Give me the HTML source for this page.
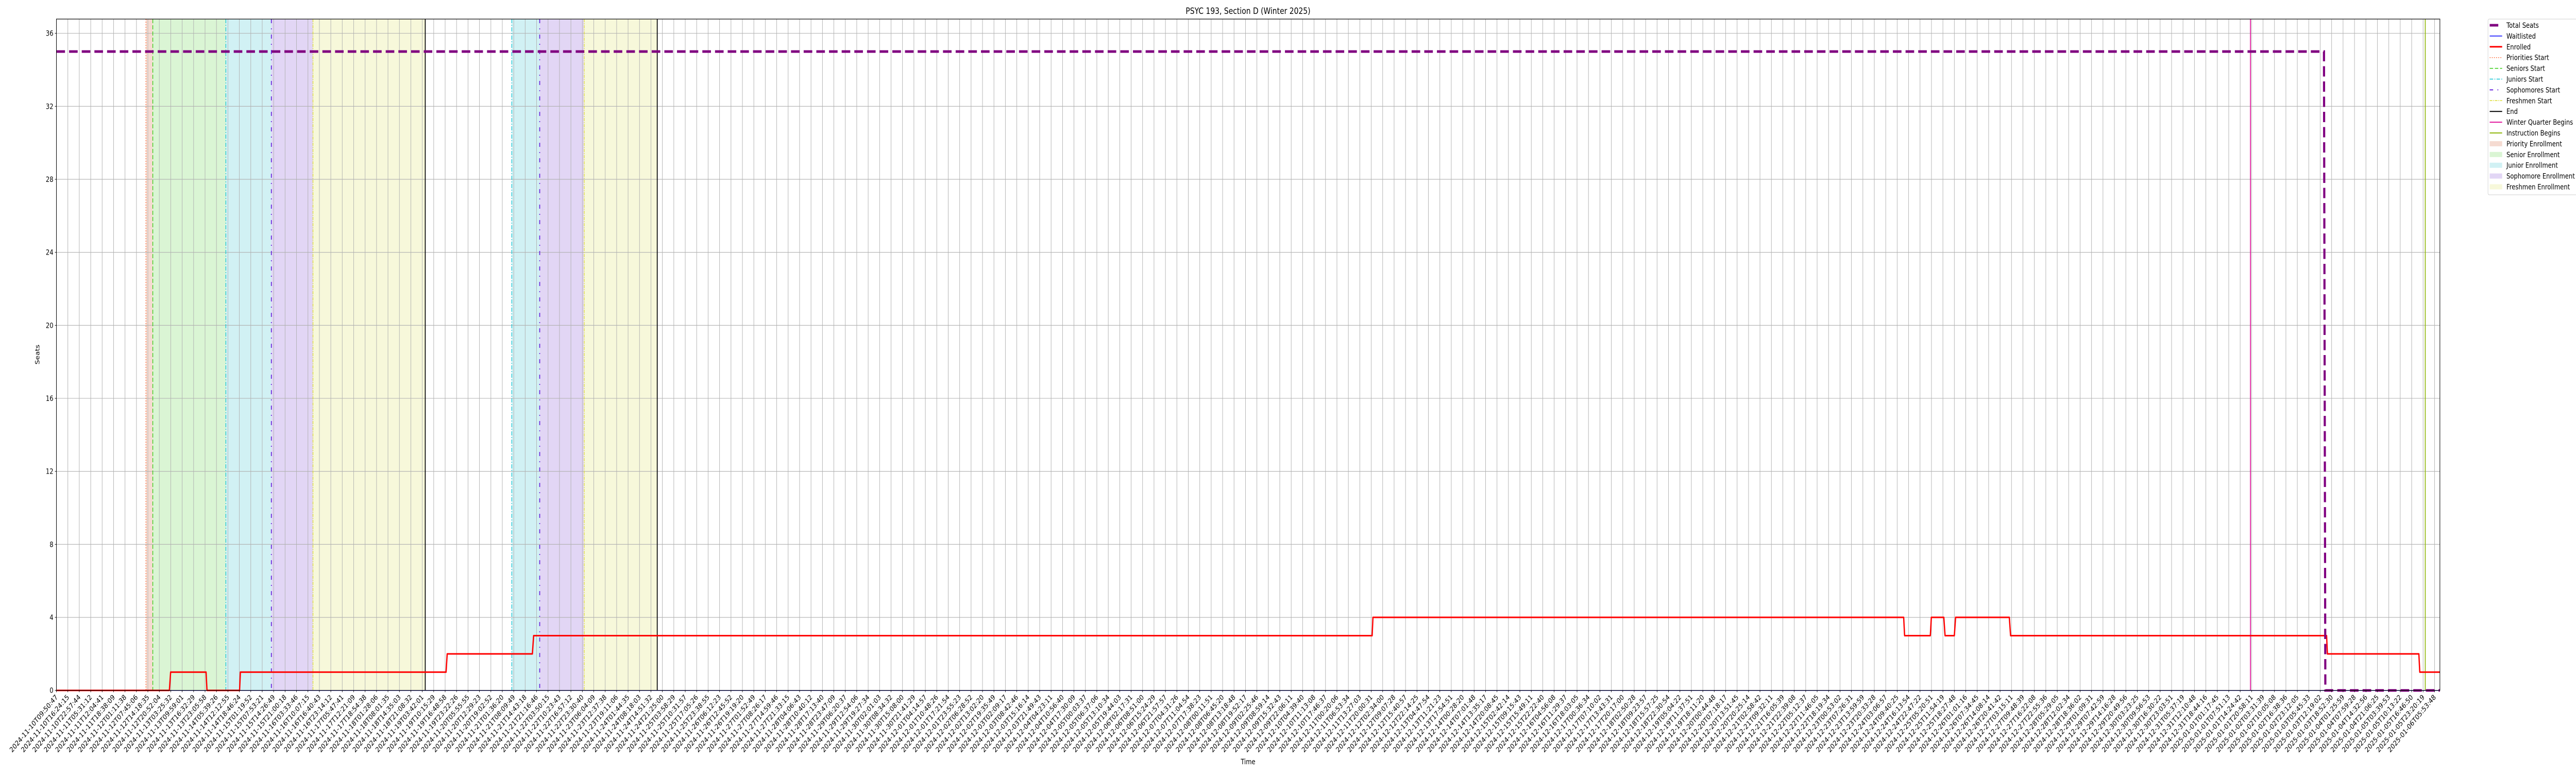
<!DOCTYPE html>
<html><head><meta charset="utf-8"><title>PSYC 193, Section D (Winter 2025)</title>
<style>
html,body{margin:0;padding:0;background:#fff;overflow:hidden;width:100%;height:100%;}
svg{display:block;width:100vw;height:100vh;font-family:"DejaVu Sans","Liberation Sans",sans-serif;}
</style></head>
<body>
<svg id="chart" viewBox="0 0 6000 1500" preserveAspectRatio="none" xmlns="http://www.w3.org/2000/svg">
<rect x="0" y="0" width="6000" height="1500" fill="#fff"/>
<g id="spans"></g>
<g id="grid"></g>
<g id="vlines"></g>
<g id="series"></g>
<rect x="131.4" y="37" width="5551.6" height="1302.7" fill="none" stroke="#000" stroke-width="1.2"/>
<g id="yaxis"></g>
<g id="xaxis"></g>
<text x="2907" y="27" font-size="16.7" text-anchor="middle">PSYC 193, Section D (Winter 2025)</text>
<text x="2907" y="1483" font-size="13.9" text-anchor="middle">Time</text>
<text x="0" y="0" font-size="13.9" text-anchor="middle" transform="translate(92,688) rotate(-90)">Seats</text>
<g id="legend"></g>
</svg>
<script>
// ---- data ----
const tStart = "2024-11-10T09:50:47";
const tEnd = "2025-01-06T05:53:48";
const nTicks = 209;
const yTicks = [0, 4, 8, 12, 16, 20, 24, 28, 32, 36];
// enrolled step series (x in tick-index units)
const enrolledX = [0, 9.88, 9.99, 13.09, 13.17, 16.02, 16.09, 34.08, 34.18, 41.63, 41.74, 115.08, 115.15, 161.57, 161.65, 163.90, 163.99, 165.08, 165.19, 166.00, 166.11, 170.81, 170.92, 198.56, 198.63, 206.63, 206.71, 208.47];
const enrolledY = [0, 0, 1, 1, 0, 0, 1, 1, 2, 2, 3, 3, 4, 4, 3, 3, 4, 4, 3, 3, 4, 4, 3, 3, 2, 2, 1, 1];
const waitlistX = [0, 208.47];
const waitlistY = [0, 0];
const seatsX = [0, 198.33, 198.45, 208.47];
const seatsY = [35, 35, 0, 0];
// enrollment windows
const spanStart = [7.83, 8.43, 14.82, 18.8, 22.44, 39.83, 42.27, 46.16];
const spanEnd = [8.43, 14.82, 18.8, 22.44, 32.26, 42.27, 46.16, 52.55];
const spanKind = ["priority", "senior", "junior", "sophomore", "freshmen", "junior", "sophomore", "freshmen"];
// event lines
const eventX = [7.83, 8.43, 14.82, 18.8, 22.44, 32.26, 39.83, 42.27, 46.16, 52.55, 191.9, 207.19];
const eventKind = ["priorities", "seniors", "juniors", "sophomores", "freshmen", "end", "juniors", "sophomores", "freshmen", "end", "winter", "instruction"];

// ---- axes ----
const X0 = 131.4, X1 = 5683, Y0 = 1339.7, YT = 37;
const xMin = 0, xMax = 208.47, yMin = 0, yMax = 36.78;
function xs(v){ return X0 + (v - xMin) / (xMax - xMin) * (X1 - X0); }
function ys(v){ return Y0 - (v - yMin) / (yMax - yMin) * (Y0 - YT); }
const NS = "http://www.w3.org/2000/svg";
function mk(tag, attrs, parent){ const e = document.createElementNS(NS, tag); for (const k in attrs) e.setAttribute(k, attrs[k]); parent.appendChild(e); return e; }

const spanFill = {priority:"#f0c8b8", senior:"#c6efbd", junior:"#b8eaee", sophomore:"#d2c0f0", freshmen:"#f2f4c6"};
const evStyle = {
  priorities:{c:"#ff6633", d:"2 3", w:1.5},
  seniors:{c:"#33cc11", d:"8 4", w:1.5},
  juniors:{c:"#11c4d4", d:"8 3 2 3", w:1.5},
  sophomores:{c:"#6622dd", d:"8 10 2 10", w:2},
  freshmen:{c:"#dddd33", d:"6 2 2 2", w:1.5},
  end:{c:"#000", d:"", w:2},
  winter:{c:"#e0169c", d:"", w:2},
  instruction:{c:"#8fb70c", d:"", w:2}
};

// tick labels
const t0 = Date.parse(tStart + "Z"), t1 = Date.parse(tEnd + "Z");
const tickLabels = [];
for (let i = 0; i < nTicks; i++) {
  const t = new Date(t0 + (t1 - t0) * i / (nTicks - 1));
  tickLabels.push(t.toISOString().slice(0, 19));
}

const spansG = document.getElementById("spans");
spanStart.forEach((s, i) => {
  const r = mk("rect", {x: xs(s), y: YT, width: xs(spanEnd[i]) - xs(s), height: Y0 - YT, fill: spanFill[spanKind[i]], "fill-opacity": 0.65}, spansG);
  
  
});

const gridG = document.getElementById("grid");
for (let i = 0; i < nTicks; i++) {
  const l = mk("line", {x1: xs(i), x2: xs(i), y1: YT, y2: Y0, stroke: "#b0b0b0", "stroke-width": 1.1}, gridG);
  
  
}
yTicks.forEach(v => {
  const l = mk("line", {x1: X0, x2: X1, y1: ys(v), y2: ys(v), stroke: "#b0b0b0", "stroke-width": 1.1}, gridG);
  
  
});

const vG = document.getElementById("vlines");
eventX.forEach((v, i) => {
  const s = evStyle[eventKind[i]];
  const l = mk("line", {x1: xs(v), x2: xs(v), y1: YT, y2: Y0, stroke: s.c, "stroke-width": s.w}, vG);
  if (s.d) l.setAttribute("stroke-dasharray", s.d);
  
  
});

const sG = document.getElementById("series");
function pts(xa, ya){ return xa.map((x, i) => xs(x).toFixed(2) + "," + ys(ya[i]).toFixed(2)).join(" "); }
const wl = mk("polyline", {points: pts(waitlistX, waitlistY), fill: "none", stroke: "#0000ff", "stroke-width": 1.5}, sG);


const en = mk("polyline", {points: pts(enrolledX, enrolledY), fill: "none", stroke: "#ff0000", "stroke-width": 3, "stroke-linejoin": "round"}, sG);


const ts = mk("polyline", {points: pts(seatsX, seatsY), fill: "none", stroke: "#800080", "stroke-width": 5, "stroke-dasharray": "20 9.5"}, sG);



const yA = document.getElementById("yaxis");
yTicks.forEach(v => {
  const tk = mk("line", {x1: X0 - 3.5, x2: X0, y1: ys(v), y2: ys(v), stroke: "#000", "stroke-width": 1}, yA);
  
  
  const tx = mk("text", {x: X0 - 7, y: ys(v) + 5, "font-size": 13.9, "text-anchor": "end"}, yA);
  tx.textContent = v;
  
  
});

const xA = document.getElementById("xaxis");
tickLabels.forEach((lab, i) => {
  const x = xs(i);
  const tk = mk("line", {x1: x, x2: x, y1: Y0, y2: Y0 + 3.5, stroke: "#000", "stroke-width": 1}, xA);
  
  
  const ax = x + 4, ay = Y0 + 14;
  const tx = mk("text", {x: ax, y: ay, "font-size": 13.9, "text-anchor": "end", transform: "rotate(-45 " + ax + " " + ay + ")"}, xA);
  tx.textContent = lab;
  
  
});

// legend
const legendNames = ["Total Seats", "Waitlisted", "Enrolled", "Priorities Start", "Seniors Start", "Juniors Start", "Sophomores Start", "Freshmen Start", "End", "Winter Quarter Begins", "Instruction Begins", "Priority Enrollment", "Senior Enrollment", "Junior Enrollment", "Sophomore Enrollment", "Freshmen Enrollment"];
const legendKind = ["seats", "wait", "enr", "priorities", "seniors", "juniors", "sophomores", "freshmen", "end", "winter", "instruction", "priority", "senior", "junior", "sophomore", "freshmen"];
const lg = document.getElementById("legend");
const fr = mk("rect", {x: 5795, y: 37, width: 212, height: 341, rx: 3, fill: "#fff", "fill-opacity": 0.8, stroke: "#d0d0d0", "stroke-width": 1}, lg);


legendNames.forEach((nm, i) => {
  const cy = 49 + i * 20.9;
  const k = legendKind[i];
  let h;
  if (i < 11) {
    let c, w = 1.5, d = "", x2 = 5828;
    if (k === "seats") { c = "#800080"; w = 5; x2 = 5819; }
    else if (k === "wait") { c = "#0000ff"; }
    else if (k === "enr") { c = "#ff0000"; w = 3; }
    else { const s = evStyle[k]; c = s.c; w = s.w; d = s.d; }
    h = mk("line", {x1: 5799, x2: x2, y1: cy, y2: cy, stroke: c, "stroke-width": w}, lg);
    if (d) h.setAttribute("stroke-dasharray", d);
  } else {
    h = mk("rect", {x: 5799, y: cy - 5, width: 29, height: 10, fill: spanFill[k], "fill-opacity": 0.65}, lg);
  }
  
  
  const t = mk("text", {x: 5838, y: cy + 5, "font-size": 13.9}, lg);
  t.textContent = nm;
  
  
});
</script>
</body></html>
